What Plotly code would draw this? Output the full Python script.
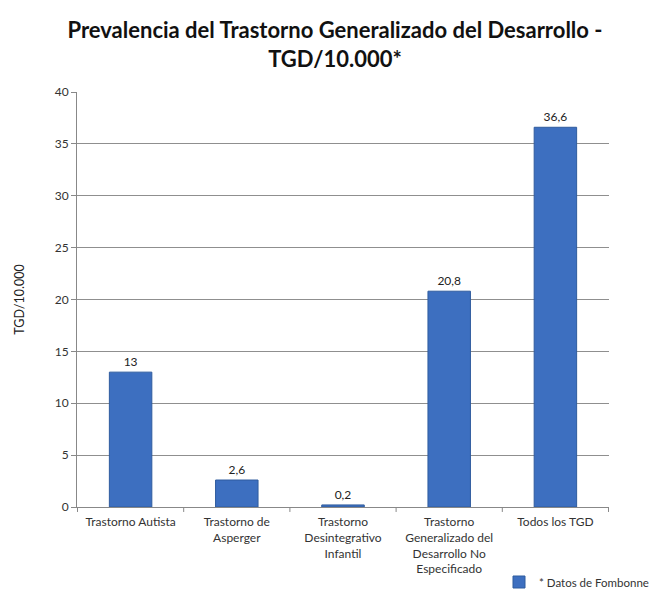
import plotly.graph_objects as go

categories = [
    "Trastorno Autista",
    "Trastorno de<br>Asperger",
    "Trastorno<br>Desintegrativo<br>Infantil",
    "Trastorno<br>Generalizado del<br>Desarrollo No<br>Especificado",
    "Todos los TGD",
]
values = [13, 2.6, 0.2, 20.8, 36.6]
value_labels = ["13", "2,6", "0,2", "20,8", "36,6"]
series_name = "* Datos de Fombonne"
y_ticks = [0, 5, 10, 15, 20, 25, 30, 35, 40]

font_family = "Lato, 'Open Sans', sans-serif"

# page body adds an 8px offset; figure is sized to fit in the 662x589 window
W, H = 654, 581

fig = go.Figure()
fig.add_trace(go.Bar(
    x=categories,
    y=values,
    name=series_name,
    text=value_labels,
    textposition="outside",
    textfont=dict(size=12, color="#222222", family=font_family),
    cliponaxis=False,
    marker=dict(color="#3D6FC0", line=dict(color="#2F5C9E", width=1)),
    width=0.4,
    showlegend=True,
))

fig.update_layout(
    width=W, height=H,
    paper_bgcolor="white", plot_bgcolor="white",
    margin=dict(l=69, r=53, t=84, b=82, autoexpand=False),
    font=dict(family=font_family, color="#333333"),
    title=dict(
        text="<b>Prevalencia del Trastorno Generalizado del Desarrollo -<br>TGD/10.000*</b>",
        x=0.5, xanchor="center", xref="container",
        y=1 - 30 / H, yanchor="middle", yref="container",
        font=dict(size=22, color="#111111", family=font_family),
    ),
    xaxis=dict(
        showline=True, linecolor="#888888", linewidth=1,
        ticks="", tickfont=dict(size=12, color="#333333"),
        ticklabelstandoff=4,
        showgrid=False,
    ),
    yaxis=dict(
        range=[0, 40], tickvals=y_ticks,
        showline=True, linecolor="#888888", linewidth=1,
        ticks="outside", ticklen=5, tickcolor="#888888",
        showgrid=True, gridcolor="#8f8f8f", gridwidth=1,
        tickfont=dict(size=12, color="#333333"),
        title=dict(text="TGD/10.000", font=dict(size=12.5, color="#222222"), standoff=27),
        zeroline=False,
    ),
    legend=dict(
        xref="container", yref="container",
        x=491 / W, y=1 - 574 / H, xanchor="left", yanchor="middle",
        font=dict(size=11.5, color="#333333"),
        bgcolor="rgba(0,0,0,0)", itemwidth=30,
    ),
    bargap=0.6,
)

# category separator ticks on x-axis
for i in range(len(categories) + 1):
    fig.add_shape(type="line", xref="x", yref="paper",
                  x0=i - 0.5, x1=i - 0.5, y0=0, y1=-0.012,
                  line=dict(color="#888888", width=1))

fig.write_html("out.html")
